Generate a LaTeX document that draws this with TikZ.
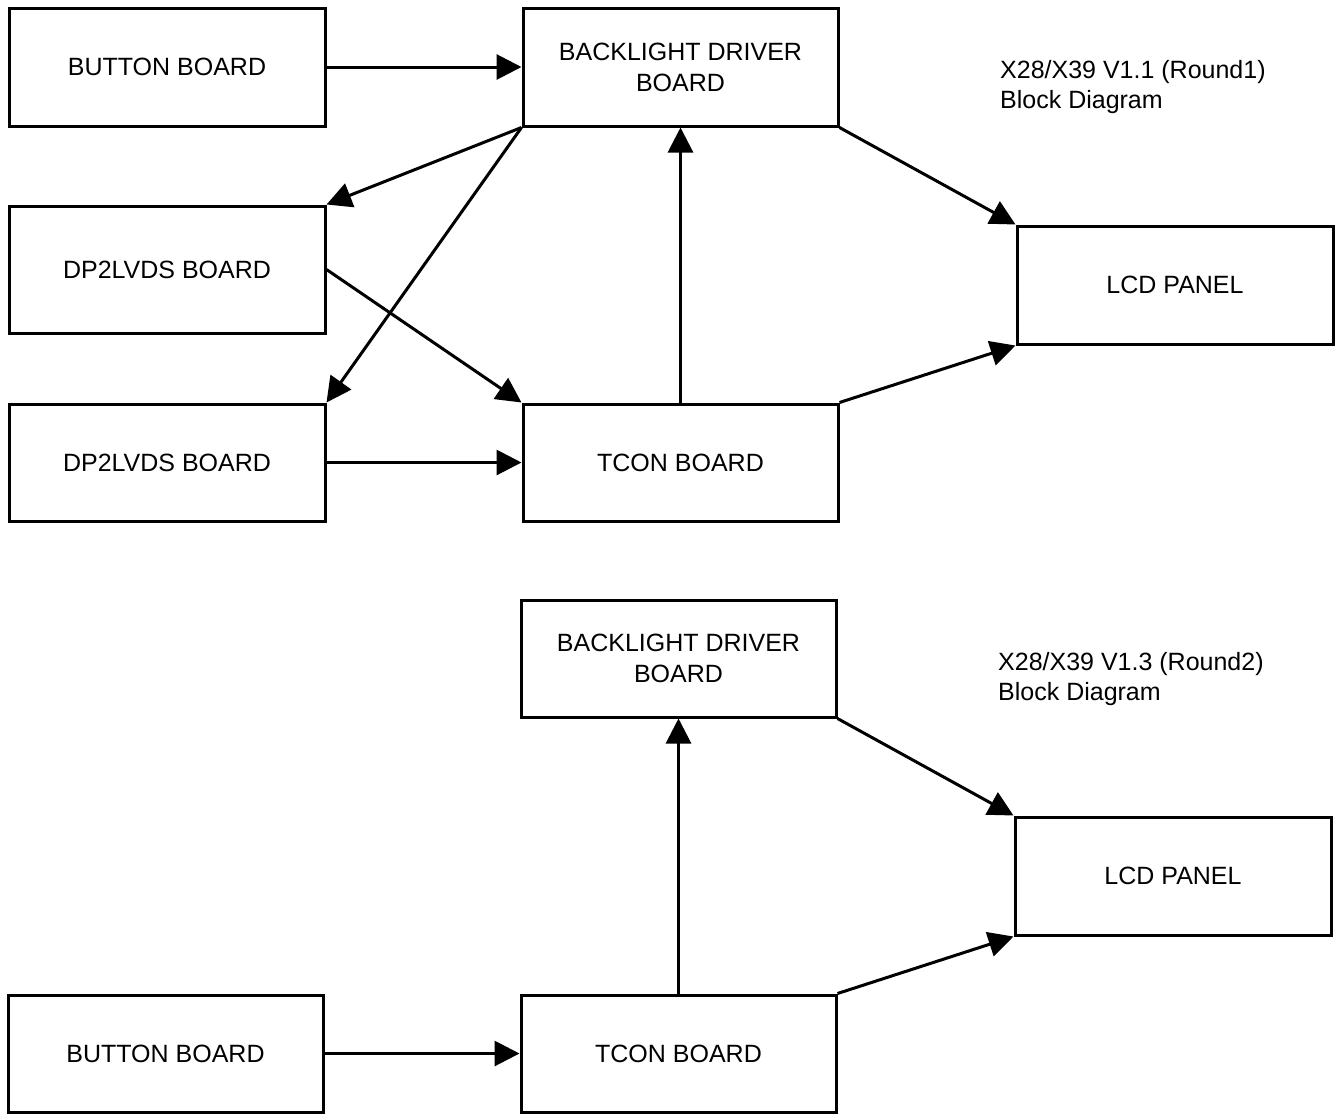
\documentclass[tikz,border=0pt]{standalone}
\usepackage{fontspec}
\setmainfont{Liberation Sans}
\usetikzlibrary{arrows.meta}
\begin{document}
\begin{tikzpicture}[x=1pt,y=-1pt,
  blk/.style={draw,line width=3pt,rectangle,inner sep=0pt,align=center,
    font=\fontsize{25}{31}\selectfont},
  lbl/.style={inner sep=0pt,align=left,anchor=west,font=\fontsize{25}{30}\selectfont},
  conn/.style={line width=3pt,-{Triangle[length=25pt,width=25pt]}}]
\useasboundingbox (0,0) rectangle (1337,1117);
% top diagram
\node[blk,minimum width=316pt,minimum height=118pt] (bb1) at (167,67) {BUTTON BOARD};
\node[blk,minimum width=315pt,minimum height=118pt] (bl1) at (680.5,67) {BACKLIGHT DRIVER\\BOARD};
\node[blk,minimum width=316pt,minimum height=127pt] (dp1) at (167,269.5) {DP2LVDS BOARD};
\node[blk,minimum width=316pt,minimum height=117pt] (dp2) at (167,462.5) {DP2LVDS BOARD};
\node[blk,minimum width=315pt,minimum height=117pt] (tc1) at (680.5,462.5) {TCON BOARD};
\node[blk,minimum width=316pt,minimum height=118pt] (lcd1) at (1175,285) {LCD PANEL};
\node[lbl] (t1) at (1000,87) {X28/X39 V1.1 (Round1)\\Block Diagram};
\draw[conn] (bb1.east) -- (bl1.west);
\draw[conn] (bl1.south west) -- (dp1.north east);
\draw[conn] (bl1.south west) -- (dp2.north east);
\draw[conn] (dp1.east) -- (tc1.north west);
\draw[conn] (dp2.east) -- (tc1.west);
\draw[conn] (tc1.north) -- (bl1.south);
\draw[conn] (bl1.south east) -- (lcd1.north west);
\draw[conn] (tc1.north east) -- (lcd1.south west);
% bottom diagram
\node[blk,minimum width=315pt,minimum height=117pt] (bl2) at (678.5,658.5) {BACKLIGHT DRIVER\\BOARD};
\node[blk,minimum width=316pt,minimum height=118pt] (lcd2) at (1173,876) {LCD PANEL};
\node[blk,minimum width=315pt,minimum height=117pt] (bb2) at (165.5,1053.5) {BUTTON BOARD};
\node[blk,minimum width=315pt,minimum height=117pt] (tc2) at (678.5,1053.5) {TCON BOARD};
\node[lbl] (t2) at (998,679) {X28/X39 V1.3 (Round2)\\Block Diagram};
\draw[conn] (tc2.north) -- (bl2.south);
\draw[conn] (bl2.south east) -- (lcd2.north west);
\draw[conn] (tc2.north east) -- (lcd2.south west);
\draw[conn] (bb2.east) -- (tc2.west);
\end{tikzpicture}
\end{document}
